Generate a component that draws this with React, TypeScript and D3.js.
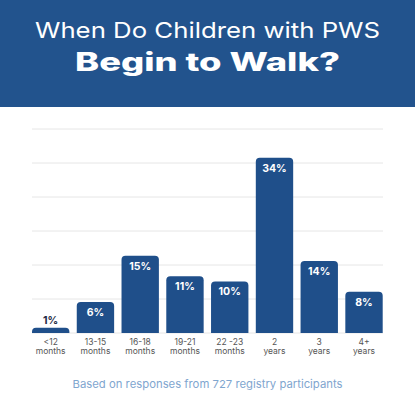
import React from 'react';
import * as d3 from 'd3';

const categories = ['<12|months', '13-15|months', '16-18|months', '19-21|months', '22 -23|months', '2|years', '3|years', '4+|years'];
const values = [1, 6, 15, 11, 10, 34, 14, 8];
const valueLabels = ['1%', '6%', '15%', '11%', '10%', '34%', '14%', '8%'];
const titleLines = ['When Do Children with PWS', 'Begin to Walk?'];
const footnote = 'Based on responses from 727 registry participants';

const W = 415, H = 407;
const blue = '#22538d';
const barBlue = '#1f4f8a';

export default function App() {
    const x = d3.scaleBand<number>()
        .domain(d3.range(values.length))
        .range([32, 382.7])
        .paddingInner(0.165)
        .paddingOuter(0);

    const yMax = 39.6;
    const y = d3.scaleLinear().domain([0, yMax]).range([333, 129]);
    const grid = d3.range(0, 7).map(i => (yMax * i) / 6);

    const r = 4;
    const barPath = (i: number) => {
        const x0 = x(i)!, w = x.bandwidth();
        const top = y(values[i]), base = y(0);
        const rr = Math.min(r, (base - top));
        return `M${x0},${base}V${top + rr}Q${x0},${top} ${x0 + rr},${top}H${x0 + w - rr}Q${x0 + w},${top} ${x0 + w},${top + rr}V${base}Z`;
    };

    return (
        <svg width={W} height={H} style={{ position: 'absolute', left: 0, top: 0, background: '#fff' }}
            fontFamily="Inter, 'Open Sans', sans-serif">
            <rect x={0} y={0} width={W} height={107} fill={blue} />
            <text x={W / 2} y={38} textAnchor="middle" fill="#fff" fontSize={22} fontWeight={400}
                textLength={345} lengthAdjust="spacingAndGlyphs">{titleLines[0]}</text>
            <text x={W / 2} y={71} textAnchor="middle" fill="#fff" fontSize={25.5} fontWeight={800}
                textLength={265} lengthAdjust="spacingAndGlyphs">{titleLines[1]}</text>

            {grid.map((g, i) => (
                <line key={i} x1={32} x2={383} y1={y(g)} y2={y(g)} stroke="#e6e6e6" strokeWidth={1} />
            ))}

            {values.map((v, i) => {
                const cx = x(i)! + x.bandwidth() / 2;
                const inside = y(0) - y(v) > 20;
                const [l1, l2] = categories[i].split('|');
                return (
                    <g key={i}>
                        <path d={barPath(i)} fill={barBlue} />
                        <text x={cx} y={inside ? y(v) + 14 : y(v) - 4} textAnchor="middle"
                            fill={inside ? '#fff' : '#1e2b45'} fontSize={10.5} fontWeight={700}>{valueLabels[i]}</text>
                        <text x={cx} y={345} textAnchor="middle" fill="#555" fontSize={8.5}>{l1}</text>
                        <text x={cx} y={354} textAnchor="middle" fill="#555" fontSize={8.5}>{l2}</text>
                    </g>
                );
            })}

            <text x={W / 2} y={388} textAnchor="middle" fill="#7fa6cf" fontSize={11}
                textLength={270} lengthAdjust="spacingAndGlyphs">{footnote}</text>
        </svg>
    );
}
